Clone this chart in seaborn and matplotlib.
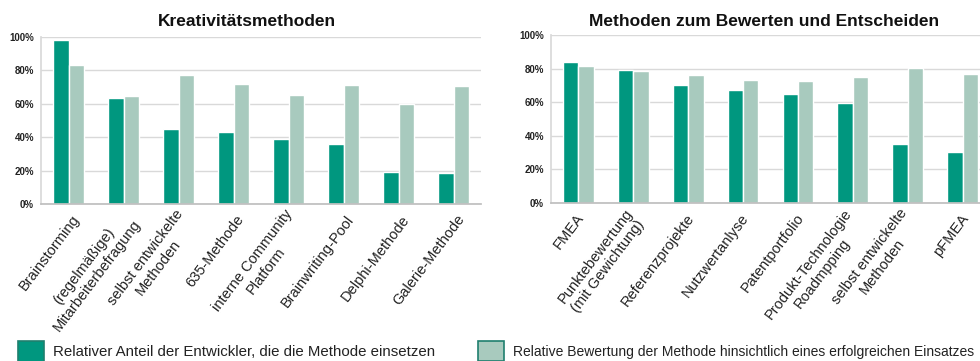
import matplotlib
matplotlib.use("Agg")
import matplotlib.pyplot as plt
import matplotlib.transforms as mtransforms
from matplotlib.patches import Patch
from matplotlib.ticker import PercentFormatter
import pandas as pd
import seaborn as sns

sns.set_theme(style="white")
plt.rcParams["font.family"] = ["Liberation Sans", "DejaVu Sans"]

# --- data -------------------------------------------------------------
series_names = [
    "Relativer Anteil der Entwickler, die die Methode einsetzen",
    "Relative Bewertung der Methode hinsichtlich eines erfolgreichen Einsatzes",
]

kreativ_methods = [
    "Brainstorming",
    "(regelmäßige)\nMitarbeiterbefragung",
    "selbst entwickelte\nMethoden",
    "635-Methode",
    "interne Community\nPlatform",
    "Brainwriting-Pool",
    "Delphi-Methode",
    "Galerie-Methode",
]
kreativ_anteil = [0.984, 0.635, 0.452, 0.432, 0.390, 0.357, 0.189, 0.183]
kreativ_bewertung = [0.831, 0.647, 0.771, 0.721, 0.651, 0.711, 0.598, 0.707]

bewert_methods = [
    "FMEA",
    "Punktebewertung\n(mit Gewichtung)",
    "Referenzprojekte",
    "Nutzwertanlyse",
    "Patentportfolio",
    "Produkt-Technologie\nRoadmpping",
    "selbst entwickelte\nMethoden",
    "pFMEA",
]
bewert_anteil = [0.839, 0.794, 0.704, 0.675, 0.649, 0.595, 0.349, 0.302]
bewert_bewertung = [0.817, 0.788, 0.760, 0.732, 0.726, 0.750, 0.802, 0.766]

titles = ["Kreativitätsmethoden", "Methoden zum Bewerten und Entscheiden"]

dark = "#00977f"
light = "#a8cabe"
palette = {series_names[0]: dark, series_names[1]: light}


def long_frame(methods, anteil, bewertung):
    return pd.DataFrame({
        "Methode": methods * 2,
        "Serie": [series_names[0]] * len(methods) + [series_names[1]] * len(methods),
        "Wert": list(anteil) + list(bewertung),
    })


frames = [
    long_frame(kreativ_methods, kreativ_anteil, kreativ_bewertung),
    long_frame(bewert_methods, bewert_anteil, bewert_bewertung),
]
orders = [kreativ_methods, bewert_methods]

# --- figure -----------------------------------------------------------
W, H = 980, 361
fig = plt.figure(figsize=(W / 100, H / 100), dpi=100)


def px_axes(x0, y0, x1, y1):
    return fig.add_axes([x0 / W, 1 - y1 / H, (x1 - x0) / W, (y1 - y0) / H])


axes = [px_axes(41, 37, 481, 204), px_axes(551, 35, 990, 203)]
label_shift = [8, 3]
title_x = [247, 764]

for ax, df, order, shift, tx, title in zip(axes, frames, orders, label_shift, title_x, titles):
    sns.barplot(data=df, x="Methode", y="Wert", hue="Serie", order=order,
                hue_order=series_names, palette=palette, width=0.56,
                saturation=1, errorbar=None, legend=False, ax=ax)
    ax.set_ylim(0, 1)
    ax.set_yticks([0, 0.2, 0.4, 0.6, 0.8, 1.0])
    ax.yaxis.set_major_formatter(PercentFormatter(1.0, decimals=0))
    ax.set_xlabel("")
    ax.set_ylabel("")
    ax.set_axisbelow(True)
    ax.grid(axis="y", color="#d9d9d9", linewidth=1.0)
    for side in ("top", "right"):
        ax.spines[side].set_visible(False)
    ax.spines["left"].set_color("#d9d9d9")
    ax.spines["bottom"].set_color("#bfbfbf")
    ax.tick_params(axis="y", length=3, width=1, color="#d9d9d9", pad=2,
                   labelsize=7)
    for lab in ax.get_yticklabels():
        lab.set_fontweight("bold")
        lab.set_color("#222222")
    ax.tick_params(axis="x", length=0, pad=9)
    offset = mtransforms.ScaledTranslation(shift / 100, 0, fig.dpi_scale_trans)
    for lab in ax.get_xticklabels():
        lab.set_rotation(53)
        lab.set_ha("right")
        lab.set_va("center")
        lab.set_rotation_mode("anchor")
        lab.set_multialignment("center")
        lab.set_fontsize(10.5)
        lab.set_color("#222222")
        lab.set_transform(lab.get_transform() + offset)
    fig.text(tx / W, 1 - 21 / H, title, ha="center", va="center",
             fontsize=12.5, fontweight="bold", color="#111111")

# --- legend -----------------------------------------------------------
legend_pos = [(18, 341), (478, 341)]
legend_size = [10.8, 10.0]
for name, color, (lx, ly), fs in zip(series_names, [dark, light], legend_pos, legend_size):
    handle = Patch(facecolor=color, edgecolor="#1f7f6e", linewidth=1.2, label=name)
    fig.legend(handles=[handle], loc="upper left",
               bbox_to_anchor=(lx / W, 1 - ly / H), frameon=False,
               fontsize=fs, handlelength=26 / (fs * 100 / 72),
               handleheight=26 / (fs * 100 / 72),
               handletextpad=9 / (fs * 100 / 72), borderpad=0, borderaxespad=0,
               labelcolor="#222222")

fig.savefig("out.png", dpi=100)
